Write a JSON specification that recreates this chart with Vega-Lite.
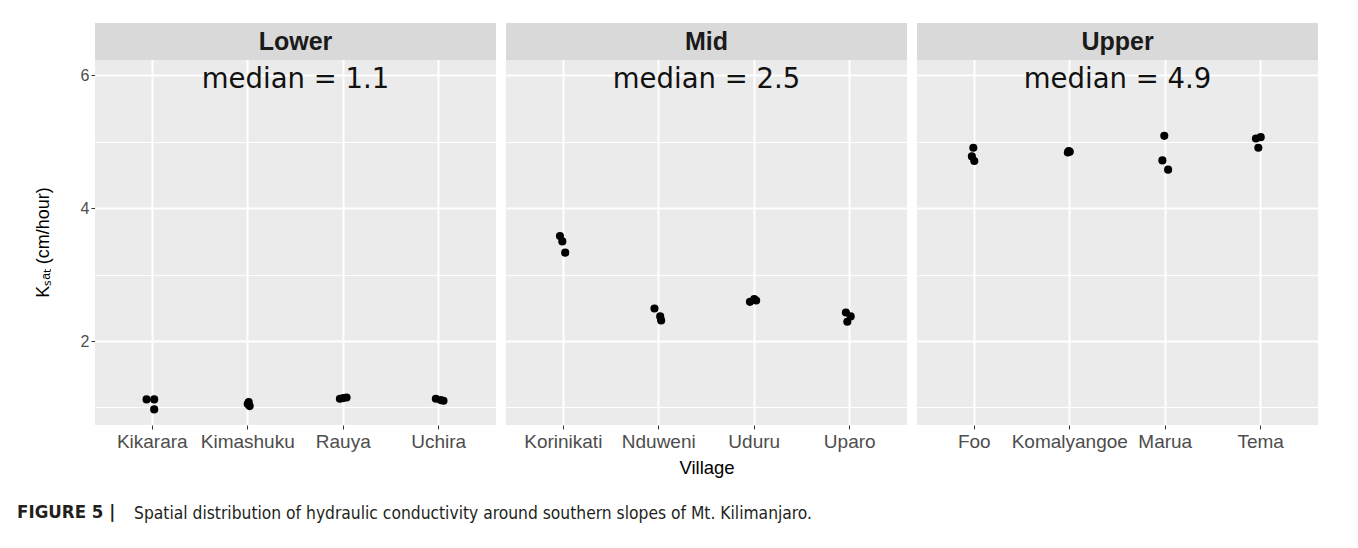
{
  "$schema": "https://vega.github.io/schema/vega-lite/v6.json",
  "background": "white",
  "padding": {"left": 17, "top": 23, "right": 5, "bottom": 5},
  "config": {
    "view": {"fill": "#EBEBEB", "stroke": null},
    "font": "Liberation Sans",
    "axis": {"domain": false, "grid": true, "gridColor": "#FFFFFF", "tickColor": "#333333", "tickSize": 4, "labelColor": "#4D4D4D", "labelFont": "Liberation Sans"}
  },
  "title": {"text": "FIGURE 5 |", "orient": "bottom", "anchor": "start", "dx": -17, "dy": -19, "offset": 0, "font": "Liberation Sans Narrow, DejaVu Sans Condensed, Liberation Sans", "fontSize": 18.5, "fontWeight": "bold", "color": "#231F20"},
  "vconcat": [
    {
      "title": {"text": "Spatial distribution of hydraulic conductivity around southern slopes of Mt. Kilimanjaro.", "orient": "bottom", "anchor": "start", "dx": 100, "offset": 27, "font": "Liberation Sans Narrow, DejaVu Sans Condensed, Liberation Sans", "fontSize": 17.3, "fontWeight": "normal", "color": "#231F20"},
      "data": {"values": [
        {"zone": "Lower", "village": "Kikarara", "ksat": 1.12, "jitter": -0.06, "kind": "pt"},
        {"zone": "Lower", "village": "Kikarara", "ksat": 1.12, "jitter": 0.02, "kind": "pt"},
        {"zone": "Lower", "village": "Kikarara", "ksat": 0.97, "jitter": 0.02, "kind": "pt"},
        {"zone": "Lower", "village": "Kimashuku", "ksat": 1.08, "jitter": 0.01, "kind": "pt"},
        {"zone": "Lower", "village": "Kimashuku", "ksat": 1.05, "jitter": 0.0, "kind": "pt"},
        {"zone": "Lower", "village": "Kimashuku", "ksat": 1.02, "jitter": 0.02, "kind": "pt"},
        {"zone": "Lower", "village": "Rauya", "ksat": 1.13, "jitter": -0.035, "kind": "pt"},
        {"zone": "Lower", "village": "Rauya", "ksat": 1.15, "jitter": 0.035, "kind": "pt"},
        {"zone": "Lower", "village": "Rauya", "ksat": 1.14, "jitter": 0.0, "kind": "pt"},
        {"zone": "Lower", "village": "Uchira", "ksat": 1.13, "jitter": -0.03, "kind": "pt"},
        {"zone": "Lower", "village": "Uchira", "ksat": 1.10, "jitter": 0.05, "kind": "pt"},
        {"zone": "Lower", "village": "Uchira", "ksat": 1.11, "jitter": 0.02, "kind": "pt"},
        {"zone": "Mid", "village": "Korinikati", "ksat": 3.58, "jitter": -0.035, "kind": "pt"},
        {"zone": "Mid", "village": "Korinikati", "ksat": 3.50, "jitter": -0.01, "kind": "pt"},
        {"zone": "Mid", "village": "Korinikati", "ksat": 3.33, "jitter": 0.02, "kind": "pt"},
        {"zone": "Mid", "village": "Nduweni", "ksat": 2.49, "jitter": -0.045, "kind": "pt"},
        {"zone": "Mid", "village": "Nduweni", "ksat": 2.37, "jitter": 0.015, "kind": "pt"},
        {"zone": "Mid", "village": "Nduweni", "ksat": 2.31, "jitter": 0.025, "kind": "pt"},
        {"zone": "Mid", "village": "Uduru", "ksat": 2.59, "jitter": -0.045, "kind": "pt"},
        {"zone": "Mid", "village": "Uduru", "ksat": 2.63, "jitter": 0.0, "kind": "pt"},
        {"zone": "Mid", "village": "Uduru", "ksat": 2.61, "jitter": 0.02, "kind": "pt"},
        {"zone": "Mid", "village": "Uparo", "ksat": 2.43, "jitter": -0.04, "kind": "pt"},
        {"zone": "Mid", "village": "Uparo", "ksat": 2.37, "jitter": 0.01, "kind": "pt"},
        {"zone": "Mid", "village": "Uparo", "ksat": 2.29, "jitter": -0.025, "kind": "pt"},
        {"zone": "Upper", "village": "Foo", "ksat": 4.91, "jitter": -0.01, "kind": "pt"},
        {"zone": "Upper", "village": "Foo", "ksat": 4.78, "jitter": -0.025, "kind": "pt"},
        {"zone": "Upper", "village": "Foo", "ksat": 4.71, "jitter": 0.0, "kind": "pt"},
        {"zone": "Upper", "village": "Komalyangoe", "ksat": 4.86, "jitter": -0.01, "kind": "pt"},
        {"zone": "Upper", "village": "Komalyangoe", "ksat": 4.85, "jitter": 0.0, "kind": "pt"},
        {"zone": "Upper", "village": "Komalyangoe", "ksat": 4.84, "jitter": -0.02, "kind": "pt"},
        {"zone": "Upper", "village": "Marua", "ksat": 5.09, "jitter": -0.01, "kind": "pt"},
        {"zone": "Upper", "village": "Marua", "ksat": 4.72, "jitter": -0.03, "kind": "pt"},
        {"zone": "Upper", "village": "Marua", "ksat": 4.58, "jitter": 0.03, "kind": "pt"},
        {"zone": "Upper", "village": "Tema", "ksat": 5.05, "jitter": -0.05, "kind": "pt"},
        {"zone": "Upper", "village": "Tema", "ksat": 5.07, "jitter": 0.0, "kind": "pt"},
        {"zone": "Upper", "village": "Tema", "ksat": 4.91, "jitter": -0.025, "kind": "pt"},
        {"zone": "Lower", "kind": "note", "note": "median = 1.1"},
        {"zone": "Mid", "kind": "note", "note": "median = 2.5"},
        {"zone": "Upper", "kind": "note", "note": "median = 4.9"}
      ]},
      "facet": {
        "column": {
          "field": "zone", "type": "nominal", "sort": ["Lower", "Mid", "Upper"],
          "header": {"title": "Village", "titleOrient": "bottom", "labels": false, "titleFontSize": 18.5, "titleFontWeight": "normal", "titleColor": "#000000", "titlePadding": -2, "titleFont": "Liberation Sans"}
        }
      },
      "spacing": 10,
      "resolve": {"scale": {"x": "independent"}},
      "spec": {
        "width": 401,
        "height": 402,
        "layer": [
          {
            "transform": [{"filter": "datum.kind === 'note'"}],
            "mark": {"type": "rect", "color": "#D9D9D9"},
            "encoding": {"y": {"datum": 6.232}, "y2": {"datum": 6.789}}
          },
          {
            "transform": [{"filter": "datum.kind === 'pt'"}],
            "mark": {"type": "circle", "size": 66, "color": "#000000", "opacity": 1},
            "encoding": {
              "x": {"field": "village", "type": "nominal", "scale": {"type": "band", "paddingInner": 0, "paddingOuter": 0.1},
                "axis": {"title": null, "labelAngle": 0, "labelFontSize": 19, "labelPadding": 3, "bandPosition": 0.5, "gridWidth": 2}},
              "xOffset": {"field": "jitter", "type": "quantitative", "scale": {"domain": [-0.5, 0.5], "range": [0, 95.476]}},
              "y": {"field": "ksat", "type": "quantitative", "scale": {"domain": [0.735, 6.789], "nice": false, "zero": false},
                "axis": {"title": "Kₛₐₜ (cm/hour)", "titleFontSize": 18, "titleFontWeight": "normal", "titleColor": "#000000", "titlePadding": 28, "titleY": 219,
                  "values": [1, 2, 3, 4, 5, 6], "format": "d", "labelFontSize": 16, "labelPadding": 2,
                  "labelExpr": "datum.value % 2 === 0 ? datum.label : ''",
                  "tickOpacity": {"condition": {"test": "datum.value % 2 === 0", "value": 1}, "value": 0},
                  "gridWidth": {"condition": {"test": "datum.value % 2 === 0", "value": 2}, "value": 1}}}
            }
          },
          {
            "transform": [{"filter": "datum.kind === 'note'"}],
            "mark": {"type": "text", "fontSize": 25, "fontWeight": "bold", "color": "#1A1A1A", "font": "Liberation Sans", "baseline": "middle"},
            "encoding": {"y": {"datum": 6.51}, "text": {"field": "zone"}}
          },
          {
            "transform": [{"filter": "datum.kind === 'note'"}],
            "mark": {"type": "text", "fontSize": 27.5, "color": "#111111", "font": "DejaVu Sans", "baseline": "middle"},
            "encoding": {"y": {"datum": 5.93}, "text": {"field": "note"}}
          }
        ]
      }
    }
  ]
}
